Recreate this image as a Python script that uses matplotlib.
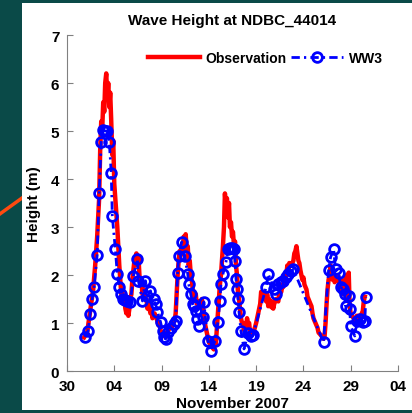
import datetime as dt
import matplotlib
matplotlib.use('Agg')
import matplotlib.pyplot as plt
import matplotlib.dates as mdates
from matplotlib.lines import Line2D
from matplotlib.patches import Rectangle

# time in days of November 2007 (1.0 = Nov 1 00:00)
obs_day = [0.81, 1.13, 1.34, 1.55, 1.77, 1.98, 2.19, 2.40, 2.51, 2.62, 2.72, 2.83, 2.94, 3.04,
           3.15, 3.26, 3.36, 3.47, 3.57, 3.68, 3.79, 3.89, 4.00, 4.11, 4.21, 4.32, 4.43, 4.53,
           4.64, 4.74, 4.85, 4.96, 5.06, 5.17, 5.28, 5.38, 5.49, 5.60, 5.70, 5.81, 5.91, 6.02,
           6.13, 6.34, 6.45, 6.55, 6.66, 6.77, 6.87, 6.98, 7.09, 7.19, 7.40, 7.51, 7.62, 7.83,
           7.94, 8.04, 8.26, 8.47, 8.68, 8.79, 8.89, 9.11, 9.21, 9.43, 9.53, 9.74, 9.96, 10.06,
           10.28, 10.38, 10.49, 10.60, 10.70, 10.81, 10.91, 11.02, 11.13, 11.23, 11.34, 11.45,
           11.55, 11.66, 11.77, 11.87, 11.98, 12.09, 12.19, 12.30, 12.51, 12.62, 12.72, 12.94,
           13.15, 13.26, 13.36, 13.47, 13.57, 13.68, 13.79, 13.89, 14.00, 14.21, 14.32, 14.53,
           14.64, 14.74, 14.85, 14.96, 15.06, 15.17, 15.28, 15.38, 15.49, 15.60, 15.70, 15.81,
           15.91, 16.02, 16.13, 16.23, 16.34, 16.45, 16.55, 16.66, 16.77, 16.87, 16.98, 17.09,
           17.19, 17.30, 17.40, 17.51, 17.62, 17.72, 17.83, 17.94, 18.04, 18.15, 18.26, 18.36,
           18.47, 18.57, 18.79, 19.00, 19.21, 19.43, 19.53, 19.64, 19.74, 19.85, 20.06, 20.17,
           20.28, 20.38, 20.60, 20.70, 20.81, 20.91, 21.13, 21.34, 21.45, 21.66, 21.77, 21.87,
           21.98, 22.19, 22.30, 22.40, 22.51, 22.72, 22.94, 23.04, 23.15, 23.26, 23.36, 23.47,
           23.57, 23.68, 23.79, 23.89, 24.00, 24.11, 24.21, 24.32, 24.43, 24.53, 24.64, 24.74,
           24.85, 24.96, 25.06, 25.17, 25.28, 25.38, 25.49, 25.60, 25.70, 25.91, 26.02, 26.13,
           26.23, 26.34, 26.45, 26.55, 26.66, 26.77, 26.87, 26.98, 27.09, 27.19, 27.30, 27.40,
           27.51, 27.62, 27.72, 27.83, 27.94, 28.04, 28.15, 28.26, 28.36, 28.47, 28.57, 28.68,
           28.79, 28.89, 29.00, 29.11, 29.32, 29.53, 29.64, 29.85, 29.96, 30.17, 30.28, 30.38,
           30.49]
obs_hs = [0.7, 0.8, 1.1, 1.4, 1.7, 2.2, 2.8, 3.6, 4.6, 5.2, 5.0, 5.6, 5.4, 6.0,
          6.2, 5.7, 6.0, 5.5, 5.8, 5.2, 4.5, 4.8, 3.9, 3.6, 3.3, 3.0, 2.6, 2.2,
          1.9, 1.6, 1.7, 1.4, 1.5, 1.3, 1.2, 1.4, 1.15, 1.3, 1.5, 1.6, 1.9, 2.1,
          2.3, 2.45, 2.2, 2.4, 2.0, 1.8, 1.9, 1.6, 1.7, 1.5, 1.5, 1.3, 1.4, 1.2,
          1.3, 1.1, 1.2, 1.1, 0.95, 1.0, 0.85, 0.75, 0.8, 0.7, 0.8, 0.85, 0.95, 0.9,
          1.0, 1.05, 1.2, 1.6, 2.0, 2.3, 2.5, 2.4, 2.6, 2.5, 2.8, 2.7,
          2.85, 2.5, 2.6, 2.2, 2.3, 2.0, 1.9, 1.7, 1.5, 1.6, 1.4, 1.45,
          1.4, 1.5, 1.35, 1.2, 1.0, 0.9, 0.8, 0.7, 0.6, 0.55, 0.5, 0.45,
          0.6, 0.55, 0.9, 1.2, 1.5, 1.8, 2.0, 2.3, 2.6, 3.0, 3.7, 3.4,
          3.6, 3.2, 3.5, 3.0, 3.1, 2.8, 2.9, 2.6, 2.7, 2.2, 2.0, 1.6,
          1.5, 1.3, 1.1, 1.0, 0.95, 0.85, 1.0, 0.9, 1.1, 0.95, 1.0, 0.8,
          0.75, 0.8, 0.85, 1.0, 1.2, 1.4, 1.65, 1.5, 1.6, 1.55, 1.45, 1.6,
          1.35, 1.5, 1.33, 1.45, 1.3, 1.4, 1.5, 1.45, 1.6, 1.65, 1.8, 1.75,
          1.9, 2.0, 2.2, 2.1, 2.25, 2.2, 2.3, 2.45, 2.5, 2.6, 2.45, 2.3,
          2.25, 2.1, 2.0, 1.9, 1.95, 1.8, 1.75, 1.7, 1.55, 1.5, 1.45, 1.4,
          1.35, 1.2, 1.1, 1.05, 1.0, 0.95, 0.9, 0.8, 0.78, 0.73, 0.7, 0.67,
          0.7, 1.0, 1.4, 1.7, 1.9, 2.0, 2.2, 2.1, 1.9, 2.0, 1.85, 2.0,
          1.9, 2.0, 1.95, 1.7, 1.9, 1.75, 1.6, 1.8, 1.9, 1.65, 2.0, 1.5,
          2.05, 1.35, 1.2, 1.15, 1.1, 1.05, 1.15, 1.15, 1.1, 1.2, 1.25, 1.45,
          1.55]

ww3_day = [0.91, 1.23, 1.45, 1.66, 1.87, 2.19, 2.40, 2.62, 2.83, 3.04, 3.26, 3.47, 3.68, 3.79,
           4.11, 4.32, 4.53, 4.74, 4.96, 5.17, 5.38, 5.70, 6.02, 6.45, 6.55, 6.98, 7.30, 7.51,
           7.83, 8.15, 8.36, 8.57, 8.89, 9.11, 9.21, 9.43, 9.64, 9.96, 10.28, 10.49, 10.70,
           10.81, 11.13, 11.45, 11.77, 11.87, 12.09, 12.30, 12.40, 12.62, 12.72, 12.94, 13.36,
           13.47, 13.89, 14.21, 14.64, 14.96, 15.17, 15.28, 15.49, 15.81, 16.02, 16.23, 16.45,
           16.66, 16.77, 16.87, 16.98, 17.09, 17.19, 17.40, 17.72, 18.15, 18.47, 18.68, 20.06,
           20.28, 20.91, 21.13, 21.34, 21.66, 21.87, 22.19, 22.40, 22.72, 22.94, 26.13, 26.66,
           26.87, 27.19, 27.40, 27.72, 27.94, 28.15, 28.36, 28.47, 28.79, 28.89, 29.00, 29.43,
           29.64, 29.96, 30.28, 30.49, 30.60]
ww3_hs = [0.71, 0.83, 1.19, 1.5, 1.75, 2.42, 3.71, 4.77, 5.02, 5.0, 5.0, 4.77, 4.12, 3.23,
          2.54, 2.02, 1.75, 1.6, 1.5, 1.48, 1.46, 1.44, 1.98, 2.33, 1.88, 1.46, 1.88, 1.56,
          1.67, 1.5, 1.4, 1.23, 1.02, 0.83, 0.7, 0.67, 0.81, 0.9, 0.98, 1.05, 2.04,
          2.4, 2.69, 2.4, 2.02, 1.81, 1.6, 1.4, 1.35, 1.25, 1.08, 0.94, 1.13,
          1.44, 0.63, 0.42, 0.62, 1.02, 1.46, 1.81, 2.02, 2.27, 2.54, 2.56, 2.56,
          2.55, 2.3, 1.92, 1.71, 1.5, 1.23, 0.83, 0.46, 0.79, 0.73, 0.75, 1.75,
          2.02, 1.71, 1.6, 1.81, 1.85, 1.88, 1.95, 2.02, 2.08, 2.12, 0.6, 2.1,
          2.37, 2.54, 2.12, 2.05, 1.75, 1.7, 1.6, 1.35, 1.56, 1.29, 0.94, 0.73,
          1.04, 1.08, 1.02, 1.04, 1.54]

base = dt.datetime(2007, 10, 31)
obs_t = [base + dt.timedelta(days=d) for d in obs_day]
ww3_t = [base + dt.timedelta(days=d) for d in ww3_day]
tick_dates = [dt.datetime(2007, 10, 30), dt.datetime(2007, 11, 4), dt.datetime(2007, 11, 9),
              dt.datetime(2007, 11, 14), dt.datetime(2007, 11, 19), dt.datetime(2007, 11, 24),
              dt.datetime(2007, 11, 29), dt.datetime(2007, 12, 4)]

plt.rcParams['font.family'] = ['Liberation Sans', 'DejaVu Sans']
plt.rcParams['font.weight'] = 'bold'

fig = plt.figure(figsize=(4.12, 4.14), dpi=100)
fig.patch.set_facecolor('#0a4a48')
# slide decoration behind the white panel
fig.add_artist(Line2D([0, 0.06], [0.481, 0.524], color='#ff4a10', lw=2.5, zorder=-3))
fig.add_artist(Rectangle((0.053, 0.007), 0.947, 0.983, facecolor='white',
                         edgecolor='none', zorder=-2))

ax = fig.add_axes([0.1626, 0.1014, 0.8034, 0.8116])
ax.set_facecolor('none')
ax.plot(obs_t, obs_hs, color='red', lw=3.2, label='Observation')
ax.plot(ww3_t, ww3_hs, color='blue', lw=2, ls=(0, (3, 1.5, 0.8, 1.5)), marker='o',
        ms=7, mfc='none', mew=2, label='WW3')

ax.set_xlim(tick_dates[0], tick_dates[-1])
ax.set_ylim(0, 7)
ax.set_xticks(tick_dates)
ax.xaxis.set_major_formatter(mdates.DateFormatter('%d'))
ax.set_yticks(range(8))
for s in ['top', 'right']:
    ax.spines[s].set_visible(False)
for s in ['left', 'bottom']:
    ax.spines[s].set_color('#808080')
ax.tick_params(direction='in', length=4, color='#808080', labelsize=11, pad=5.5)
ax.set_title('Wave Height at NDBC_44014', fontsize=11, fontweight='bold', pad=8)
ax.set_ylabel('Height (m)', fontsize=11, fontweight='bold', labelpad=7)
ax.set_xlabel('November 2007', fontsize=11, fontweight='bold', labelpad=2.5)
ax.legend(loc='upper right', bbox_to_anchor=(0.9715, 0.969), ncol=2, frameon=False,
          fontsize=10, handlelength=3.75, handletextpad=0.43, columnspacing=0.3,
          borderaxespad=0)

fig.savefig('out.png', dpi=100, facecolor=fig.get_facecolor())
